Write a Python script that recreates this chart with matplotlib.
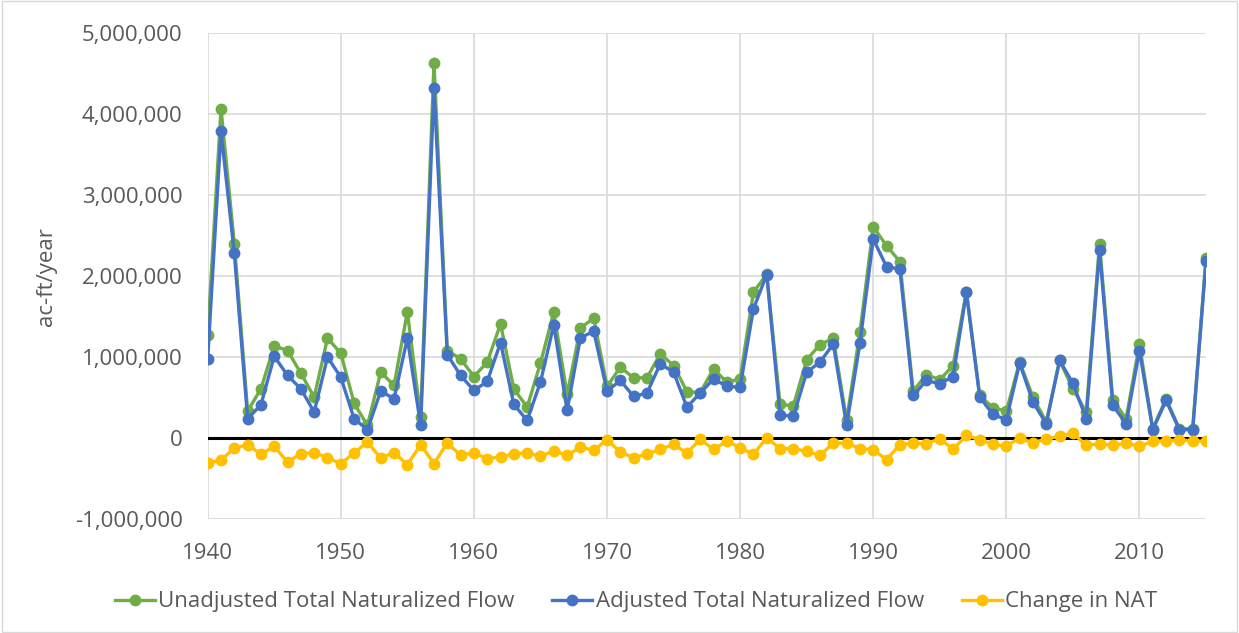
import matplotlib
matplotlib.use("Agg")
import matplotlib.pyplot as plt
from matplotlib.ticker import FuncFormatter, MultipleLocator

years = list(range(1940, 2016))

unadjusted = [1274000, 4070000, 2400000, 333000, 608000, 1140000, 1080000, 800000, 505000, 1233000,
              1048000, 430000, 156000, 814000, 650000, 1560000, 259000, 4636000, 1080000, 978000,
              760000, 937000, 1410000, 608000, 382000, 925000, 1554000, 538000, 1360000, 1480000,
              637000, 875000, 744000, 744000, 1040000, 896000, 575000, 560000, 855000, 690000,
              730000, 1800000, 2026000, 415000, 400000, 966000, 1155000, 1233000, 218000, 1307000,
              2610000, 2376000, 2180000, 580000, 785000, 720000, 896000, 1810000, 526000, 374000,
              333000, 937000, 506000, 197000, 958000, 608000, 320000, 2400000, 473000, 238000,
              1163000, 115000, 485000, 115000, 115000, 2220000]

adjusted = [978000, 3790000, 2280000, 238000, 411000, 1010000, 773000, 608000, 320000, 1000000,
            752000, 238000, 103000, 580000, 485000, 1233000, 156000, 4328000, 1030000, 773000,
            588000, 699000, 1180000, 415000, 218000, 690000, 1400000, 341000, 1237000, 1320000,
            580000, 711000, 514000, 555000, 917000, 814000, 382000, 555000, 730000, 637000,
            629000, 1595000, 2020000, 288000, 267000, 814000, 937000, 1163000, 156000, 1171000,
            2458000, 2117000, 2088000, 526000, 711000, 670000, 760000, 1800000, 506000, 292000,
            226000, 925000, 444000, 177000, 958000, 678000, 238000, 2320000, 403000, 177000,
            1081000, 103000, 464000, 103000, 103000, 2190000]

change_nat = [-308000, -275000, -123000, -82000, -200000, -103000, -296000, -193000, -180000, -242000,
              -316000, -185000, -50000, -247000, -180000, -329000, -82000, -316000, -60000, -214000,
              -180000, -255000, -234000, -193000, -185000, -226000, -160000, -214000, -111000, -152000,
              -20000, -173000, -242000, -200000, -140000, -78000, -185000, -15000, -140000, -37000,
              -119000, -200000, 4000, -130000, -130000, -164000, -214000, -62000, -62000, -130000,
              -144000, -267000, -82000, -62000, -70000, -8000, -137000, 33000, -20000, -78000,
              -103000, 4000, -62000, -8000, 20000, 62000, -90000, -70000, -90000, -62000,
              -103000, -37000, -37000, -20000, -37000, -37000]

series_labels = ["Unadjusted Total Naturalized Flow", "Adjusted Total Naturalized Flow", "Change in NAT"]
colors = ["#70ad47", "#4472c4", "#ffc000"]

plt.rcParams['font.family'] = ['Open Sans', 'DejaVu Sans']

fig = plt.figure(figsize=(12.39, 6.33), dpi=100)
ax = fig.add_axes([207.7 / 1239, 1 - 519 / 633, (1206 - 207.7) / 1239, (519 - 33.3) / 633])

for vals, lab, c in zip([unadjusted, adjusted, change_nat], series_labels, colors):
    ax.plot(years, vals, color=c, lw=2.4, marker='o', ms=7.5, label=lab, zorder=3)

ax.axhline(0, color='black', lw=2.2, zorder=2)
ax.set_xlim(1940, 2015)
ax.set_ylim(-1000000, 5000000)
ax.xaxis.set_major_locator(MultipleLocator(10))
ax.yaxis.set_major_locator(MultipleLocator(1000000))
ax.yaxis.set_major_formatter(FuncFormatter(lambda v, p: f"{int(v):,}"))
ax.grid(True, color='#d9d9d9', lw=1.2, zorder=0)
for s in ax.spines.values():
    s.set_visible(False)
ax.tick_params(length=0, labelsize=16, colors='#595959')
ax.tick_params(axis='x', pad=17)
ax.tick_params(axis='y', pad=18)
ax.set_ylabel("ac-ft/year", fontsize=16, color='#595959', labelpad=13)

leg = fig.legend(loc='center', bbox_to_anchor=(636 / 1239, 1 - 602 / 633), ncol=3, frameon=False,
                 fontsize=16, handlelength=1.8, handletextpad=0.15, columnspacing=1.7)
for t in leg.get_texts():
    t.set_color('#595959')

fig.patches.append(plt.Rectangle((0.002, 0.002), 0.996, 0.996, transform=fig.transFigure,
                                 fill=False, edgecolor='#d9d9d9', lw=1))

fig.savefig("out.png", dpi=100)
